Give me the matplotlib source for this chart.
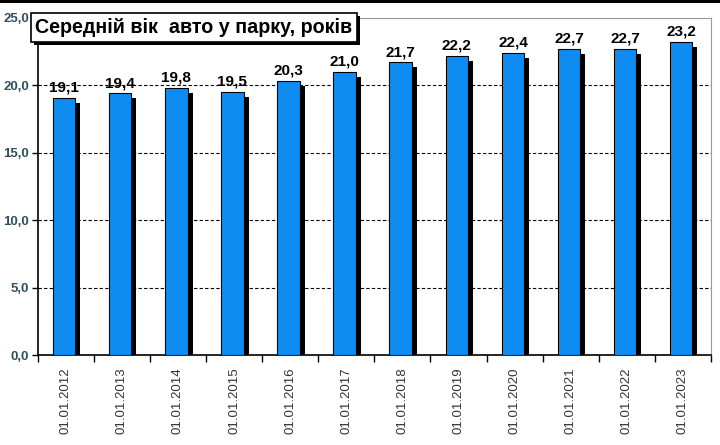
import matplotlib
matplotlib.use("Agg")
import matplotlib.pyplot as plt
import matplotlib.transforms as mtransforms
from matplotlib.patches import Rectangle
import numpy as np

plt.rcParams['font.family'] = ['Liberation Sans', 'DejaVu Sans']

categories = ["01.01.2012", "01.01.2013", "01.01.2014", "01.01.2015", "01.01.2016", "01.01.2017",
              "01.01.2018", "01.01.2019", "01.01.2020", "01.01.2021", "01.01.2022", "01.01.2023"]
values = [19.1, 19.4, 19.8, 19.5, 20.3, 21.0, 21.7, 22.2, 22.4, 22.7, 22.7, 23.2]
title = "Середній вік  авто у парку, років"

W, H = 720, 445
fig = plt.figure(figsize=(7.2, 4.45), dpi=100)
ax = fig.add_axes([37.7 / W, 1 - 355 / H, (711 - 37.7) / W, (355 - 18) / H])

x = np.arange(len(categories))
bw = 0.4
shadow_tr = ax.transData + mtransforms.ScaledTranslation(5 / 100, -5 / 100, fig.dpi_scale_trans)
ax.bar(x - 0.03, values, width=bw, color='black', transform=shadow_tr, zorder=2)
ax.bar(x - 0.03, values, width=bw, color='#0f8cf2', edgecolor='black', linewidth=0.8, zorder=3)

for xi, v in zip(x, values):
    ax.text(xi - 0.03, v + 0.25, f"{v:.1f}".replace('.', ','), ha='center', va='bottom',
            fontsize=11, fontweight='bold', color='black', zorder=4)

ax.set_xlim(-0.5, len(categories) - 0.5)
ax.set_ylim(0, 25)
yt = [0, 5, 10, 15, 20, 25]
ax.set_yticks(yt)
ax.set_yticklabels([f"{t:.1f}".replace('.', ',') for t in yt], fontsize=9.5, fontweight='bold', color='#2f4f5f')
for t in [5, 10, 15, 20]:
    ax.axhline(t, color='black', linestyle=(0, (3, 2)), linewidth=0.8, zorder=1)

ax.set_xticks(x)
ax.set_xticklabels(categories, rotation=90, fontsize=9.5, color='#333333')
ax.set_xticks(np.arange(len(categories) + 1) - 0.5, minor=True)
ax.tick_params(axis='x', which='major', length=0, pad=9)
ax.tick_params(axis='x', which='minor', length=5, direction='out', width=1)
ax.tick_params(axis='y', length=4, width=1, pad=2)

ax.spines['left'].set_color('black')
ax.spines['bottom'].set_color('black')
ax.spines['left'].set_linewidth(1.2)
ax.spines['bottom'].set_linewidth(1.2)
ax.spines['top'].set_color('#999999')
ax.spines['right'].set_color('#999999')

# top black border of figure
fig.patches.append(Rectangle((0, 1 - 3 / H), 1, 3 / H, transform=fig.transFigure,
                             facecolor='black', edgecolor='none', zorder=10))

# title box with shadow
bx0, bx1, by0, by1 = 31, 357, 13, 42
fig.patches.append(Rectangle((bx0 / W + 3 / W, 1 - (by1 + 3) / H), (bx1 - bx0) / W, (by1 - by0) / H,
                             transform=fig.transFigure, facecolor='black', edgecolor='none', zorder=10))
fig.patches.append(Rectangle((bx0 / W, 1 - by1 / H), (bx1 - bx0) / W, (by1 - by0) / H,
                             transform=fig.transFigure, facecolor='white', edgecolor='black',
                             linewidth=1.2, zorder=11))
fig.text((bx0 + bx1) / 2 / W, 1 - (by0 + by1) / 2 / H, title, ha='center', va='center',
         fontsize=14.2, fontweight='bold', color='black', zorder=12)

fig.savefig("out.png", dpi=100)
